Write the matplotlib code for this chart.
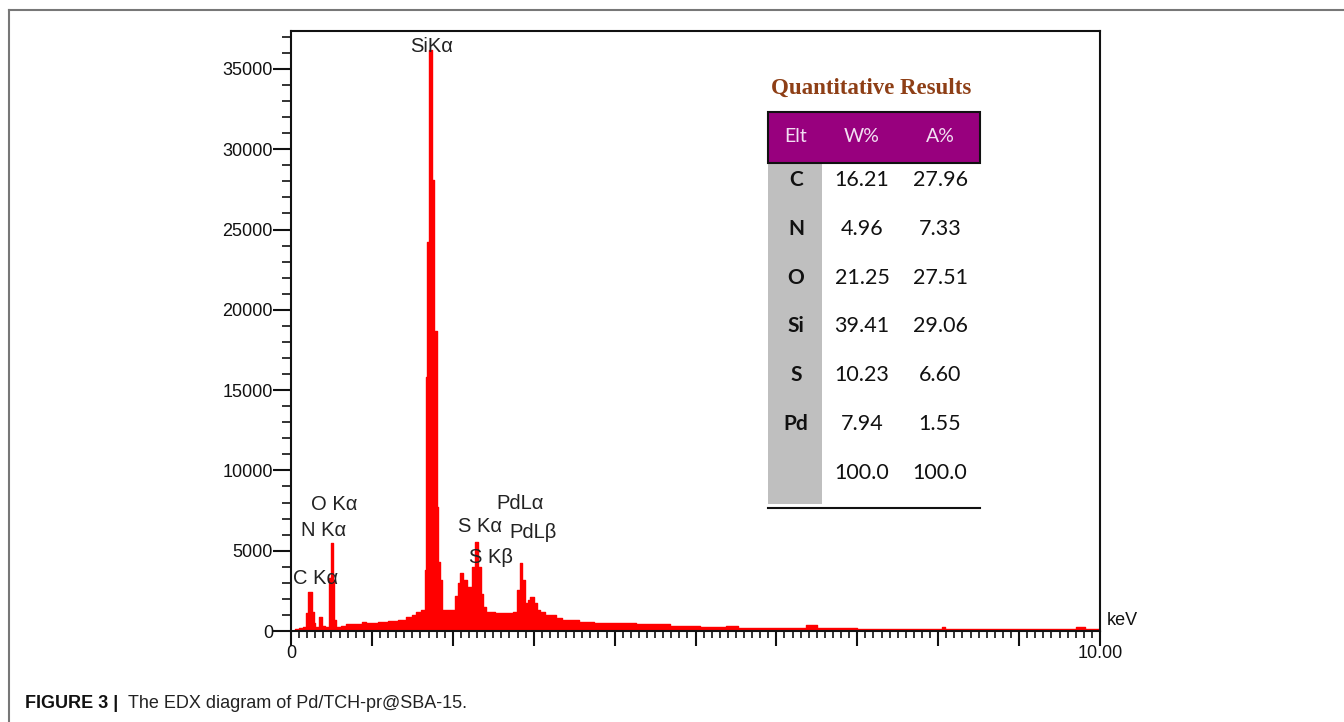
"""EDX spectrum of Pd/TCH-pr@SBA-15 with the quantitative results table."""

import matplotlib
import matplotlib.pyplot as plt
from matplotlib.patches import Rectangle
from matplotlib.ticker import FixedLocator, FuncFormatter, MultipleLocator

matplotlib.use("Agg")

# spectrum as a step profile: each count holds from its energy up to the next one
energy_kev = [
    0.00, 0.05, 0.10, 0.15, 0.19, 0.21, 0.26, 0.28, 0.30, 0.34, 0.38, 0.42,
    0.47, 0.49, 0.515, 0.535, 0.56, 0.62, 0.68, 0.88, 0.93, 1.08, 1.20, 1.32,
    1.42, 1.50, 1.55, 1.61, 1.655, 1.668, 1.683, 1.705, 1.737, 1.77, 1.80,
    1.82, 1.84, 1.867, 2.03, 2.06, 2.09, 2.12, 2.18, 2.24, 2.27, 2.31,
    2.35, 2.37, 2.41, 2.52, 2.75, 2.79, 2.83, 2.86, 2.89, 2.93, 2.96, 3.00,
    3.04, 3.08, 3.14, 3.27, 3.35, 3.56, 3.74, 4.26, 4.69, 5.05, 5.38, 5.52,
    6.37, 6.50, 7.00, 8.05, 8.09, 9.70, 9.82, 10.00,
]
counts = [
    0, 120, 200, 250, 1100, 2430, 1200, 500, 260, 870, 300, 250,
    3300, 5480, 3180, 700, 220, 330, 430, 580, 480, 540, 600, 680,
    850, 1000, 1180, 1300, 3800, 15800, 24200, 36200, 28100, 18700, 7700,
    4300, 3200, 1300, 2200, 3000, 3600, 3180, 2740, 4000, 5540, 4000,
    2300, 1500, 1180, 1100, 1180, 2550, 4230, 3180, 1740, 1900, 2120, 1740,
    1300, 1180, 1000, 800, 690, 580, 500, 440, 310, 230, 310, 170,
    370, 170, 140, 230, 100, 270, 100, 100,
]

peak_labels = ["SiKα", "O Kα", "N Kα", "C Kα", "S Kα", "S Kβ", "PdLα", "PdLβ"]
label_kev = [1.74, 0.53, 0.40, 0.30, 2.34, 2.47, 2.83, 2.99]
label_counts = [36400, 7900, 6230, 3300, 6480, 4550, 7970, 6160]

elements = ["C", "N", "O", "Si", "S", "Pd", ""]
w_pct = ["16.21", "4.96", "21.25", "39.41", "10.23", "7.94", "100.0"]
a_pct = ["27.96", "7.33", "27.51", "29.06", "6.60", "1.55", "100.0"]

W, H = 1344, 722
fig = plt.figure(figsize=(W / 100, H / 100), dpi=100)
fig.patch.set_facecolor("white")

ax = fig.add_axes([291 / W, 91 / H, 809 / W, 600 / H])
ax.fill_between(energy_kev, counts, step="post", color="#ff0000", lw=0)
ax.step(energy_kev, counts, where="post", color="#ff0000", lw=1.0)
ax.set_xlim(0, 10)
ax.set_ylim(0, 37360)

for s in ax.spines.values():
    s.set_linewidth(1.5)
    s.set_color("#111111")

ax.xaxis.set_major_locator(FixedLocator(range(11)))
ax.xaxis.set_minor_locator(MultipleLocator(0.1))
ax.xaxis.set_major_formatter(
    FuncFormatter(lambda v, p: "0" if v == 0 else ("10.00" if v == 10 else ""))
)
ax.yaxis.set_major_locator(MultipleLocator(5000))
ax.yaxis.set_minor_locator(MultipleLocator(1000))
ax.yaxis.set_major_formatter(FuncFormatter(lambda v, p: f"{int(v)}"))

ax.tick_params(axis="x", which="major", direction="out", length=11, width=1.5,
               pad=-1, labelsize=13, colors="#111111")
ax.tick_params(axis="x", which="minor", direction="out", length=5, width=1.2,
               colors="#111111")
ax.tick_params(axis="y", which="major", direction="out", length=13, width=1.5,
               pad=0, labelsize=13, colors="#111111")
ax.tick_params(axis="y", which="minor", direction="out", length=6.5, width=1.2,
               colors="#111111")
for lab in ax.get_xticklabels() + ax.get_yticklabels():
    lab.set_fontfamily("Liberation Sans")

ax.text(10.08, 0.018, "keV", transform=ax.get_xaxis_transform(),
        fontsize=13, family="Liberation Sans", va="center", ha="left",
        color="#111111")

for txt, xk, yc in zip(peak_labels, label_kev, label_counts):
    ax.text(xk, yc, txt, fontsize=14.5, family=["Liberation Sans", "DejaVu Sans"],
            ha="center", va="center", color="#222222")

# overlay in pixel coordinates for the table, frame and caption
ov = fig.add_axes([0, 0, 1, 1], zorder=5)
ov.set_xlim(0, W)
ov.set_ylim(H, 0)
ov.axis("off")

ov.plot([9, W], [10, 10], color="#777777", lw=1.5)
ov.plot([9, 9], [10, H], color="#777777", lw=1.5)

ov.text(871, 88, "Quantitative Results", family="Liberation Serif",
        weight="bold", fontsize=16.5, color="#8e3f16", ha="center", va="center")

tx0, tx1 = 768, 980
ov.add_patch(Rectangle((tx0, 163), 54, 341, facecolor="#bfbfbf", lw=0))
ov.add_patch(Rectangle((tx0, 112), tx1 - tx0, 51, facecolor="#98007e",
                       edgecolor="#111111", lw=1.5))
ov.plot([tx0, tx1], [508, 508], color="#111111", lw=1.5)

col_x = [796, 862, 940]
for txt, cx in zip(["Elt", "W%", "A%"], col_x):
    ov.text(cx, 137, txt, family="Lato", fontsize=14, color="#f2dff2",
            ha="center", va="center")

for i, (el, w, a) in enumerate(zip(elements, w_pct, a_pct)):
    y = 180 + i * 48.8
    ov.text(col_x[0], y, el, family="Lato", weight="bold", fontsize=15,
            color="#111111", ha="center", va="center")
    ov.text(col_x[1], y, w, family="Lato", fontsize=15.5, color="#111111",
            ha="center", va="center")
    ov.text(col_x[2], y, a, family="Lato", fontsize=15.5, color="#111111",
            ha="center", va="center")

ov.text(25, 704, "FIGURE 3 |", family="Liberation Sans", weight="bold",
        fontsize=13, color="#111111", ha="left", va="center")
ov.text(128, 704, "The EDX diagram of Pd/TCH-pr@SBA-15.",
        family="Liberation Sans", fontsize=13, color="#222222",
        ha="left", va="center")

fig.savefig("out.png", dpi=100)
plt.close(fig)
